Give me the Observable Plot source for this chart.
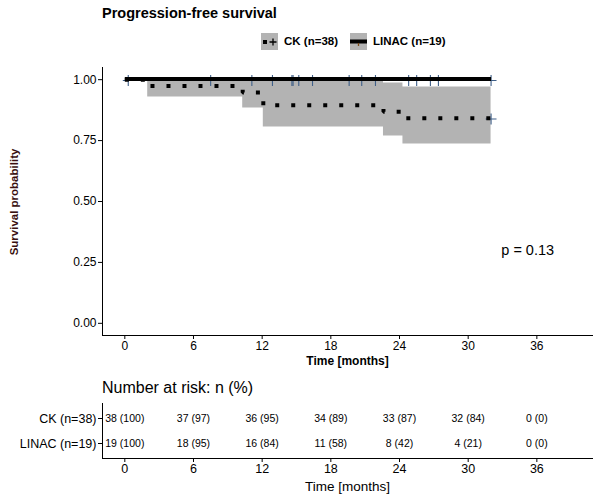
<!DOCTYPE html>
<html><head><meta charset="utf-8">
<script src="https://cdn.jsdelivr.net/npm/d3@7"></script>
<script src="https://cdn.jsdelivr.net/npm/@observablehq/plot@0.6"></script>
<style>
body{margin:0;background:#fff;font-family:"Liberation Sans",Arial,sans-serif;}
#wrap{position:relative;width:600px;height:500px;overflow:hidden;background:#fff;}
.abs{position:absolute;white-space:nowrap;line-height:1;}
.c{transform:translate(-50%,-50%);}
.lg{display:flex;align-items:center;font-weight:bold;font-size:11.5px;color:#000;}
.lg svg{display:block;margin-right:6px;}
.lg span{margin-right:12px;}
</style></head><body><div id="wrap"></div>
<script>
// ---- data ----
const groups = ["CK (n=38)", "LINAC (n=19)"];
const groupN = [38, 19];
const ckTime  = [0, 2.0, 10.3, 12.1, 22.6, 24.3, 32.0];
const ckSurv  = [1, 0.974, 0.947, 0.895, 0.868, 0.842, 0.842];
const ckLower = [1, 0.929, 0.884, 0.806, 0.769, 0.736, 0.736];
const ckUpper = [1, 1, 1, 0.998, 0.986, 0.970, 0.970];
const linacTime = [0, 32.0];
const linacSurv = [1, 1];
const linacCensor = [0.3, 7.5, 11.1, 12.9, 14.6, 14.7, 15.2, 16.4, 19.6, 20.7, 21.9, 24.8, 25.5, 26.7, 27.4, 32.0];
const ckCensor = [32.0];
const ckCensorSurv = [0.842];
const riskTimes = [0, 6, 12, 18, 24, 30, 36];
const ckRisk = [38, 37, 36, 34, 33, 32, 0];
const linacRisk = [19, 18, 16, 11, 8, 4, 0];
const xTicks = [0, 6, 12, 18, 24, 30, 36];
const yTicks = [0, 0.25, 0.5, 0.75, 1];
const pLabel = "p = 0.13";
const pAt = {t: 35.2, s: 0.30};

const xDomain = [-1.95, 40.95];
const yDomain = [-0.05, 1.05];
const FONT = '"Liberation Sans", Arial, sans-serif';

// ---- tables built from arrays ----
const ckRows = ckTime.map((t, i) => ({t, s: ckSurv[i], lo: ckLower[i], hi: ckUpper[i]}));
const linacRows = linacTime.map((t, i) => ({t, s: linacSurv[i]}));
const censorRows = [
  ...linacCensor.map(t => ({t, s: 1})),
  ...ckCensor.map((t, i) => ({t, s: ckCensorSurv[i]}))
];
const riskRows = [ckRisk, linacRisk].flatMap((arr, gi) =>
  arr.map((n, i) => ({t: riskTimes[i], row: gi + 1, label: `${n} (${Math.round(n / groupN[gi] * 100)})`})));

const wrap = document.getElementById("wrap");
function addText(txt, css, cls) {
  const d = document.createElement("div");
  d.className = "abs " + (cls || "");
  d.textContent = txt;
  Object.assign(d.style, css);
  wrap.appendChild(d);
  return d;
}

// title
addText("Progression-free survival", {left: "102px", top: "6px", fontSize: "14.5px", fontWeight: "bold", color: "#000"});

// legend
const lg = document.createElement("div");
lg.className = "abs lg";
Object.assign(lg.style, {left: "261px", top: "33px"});
lg.innerHTML =
  `<svg width="17" height="17"><rect width="17" height="17" fill="#B3B3B3"/><rect x="2" y="7" width="4" height="4" fill="#000"/><path d="M8.5 9H15.5M12 5.5V12.5" stroke="#000" stroke-width="1.3"/></svg><span>${groups[0]}</span>` +
  `<svg width="17" height="17"><rect width="17" height="17" fill="#B3B3B3"/><rect x="0" y="6.5" width="17" height="4" fill="#000"/><path d="M8.5 10V13" stroke="#7a4a1a" stroke-width="1.3"/></svg><span>${groups[1]}</span>`;
wrap.appendChild(lg);

// main plot
const main = Plot.plot({
  width: 600, height: 312,
  marginTop: 7, marginBottom: 37, marginLeft: 102, marginRight: 7,
  style: {fontFamily: FONT, fontSize: "12px", color: "#000", background: "transparent", overflow: "visible"},
  x: {domain: xDomain, ticks: xTicks, tickSize: 4, tickPadding: 2, label: null},
  y: {domain: yDomain, ticks: yTicks, tickFormat: d3.format(".2f"), tickSize: 4, tickPadding: 2, label: null},
  marks: [
    Plot.areaY(ckRows, {x: "t", y1: "lo", y2: "hi", curve: "step-after", fill: "#B3B3B3"}),
    Plot.dot(censorRows, {x: "t", y: "s", symbol: "plus", r: 3.6, stroke: "#3f5f88", strokeWidth: 1.1, dy: 0.8}),
    Plot.line(ckRows, {x: "t", y: "s", curve: "step-after", stroke: "#000", strokeWidth: 4,
      strokeDasharray: "4,12", strokeLinecap: "butt", strokeLinejoin: "miter"}),
    Plot.line(linacRows, {x: "t", y: "s", curve: "step-after", stroke: "#000", strokeWidth: 4, strokeLinecap: "butt", dy: -0.8}),
    Plot.text([pAt], {x: "t", y: "s", text: () => pLabel, fontSize: 14.5, fill: "#000"}),
    Plot.ruleX([xDomain[0]], {stroke: "#000"}),
    Plot.ruleY([yDomain[0]], {stroke: "#000"})
  ]
});
Object.assign(main.style, {position: "absolute", left: "0px", top: "60px"});
wrap.appendChild(main);

addText("Time [months]", {left: "347.5px", top: "361px", fontSize: "12px", fontWeight: "bold", color: "#000"}, "c");
const yt = addText("Survival probability", {left: "15px", top: "202px", fontSize: "11.5px", fontWeight: "bold", color: "#3a1010"});
yt.style.transform = "translate(-50%,-50%) rotate(-90deg)";

// risk table
addText("Number at risk: n (%)", {left: "102px", top: "380px", fontSize: "16px", color: "#000"});
const riskDomain = [2.6, 0.4];
const risk = Plot.plot({
  width: 600, height: 100,
  marginTop: 3, marginBottom: 42, marginLeft: 102, marginRight: 7,
  style: {fontFamily: FONT, fontSize: "12.5px", color: "#000", background: "transparent", overflow: "visible"},
  x: {domain: xDomain, ticks: xTicks, tickSize: 4, tickPadding: 2, label: null},
  y: {domain: riskDomain, ticks: [1, 2], tickFormat: d => groups[d - 1], tickSize: 4, tickPadding: 2, label: null},
  marks: [
    Plot.text(riskRows, {x: "t", y: "row", text: "label", fontSize: 10.5, fill: "#000"}),
    Plot.ruleX([xDomain[0]], {stroke: "#000"}),
    Plot.ruleY([riskDomain[0]], {stroke: "#000"})
  ]
});
Object.assign(risk.style, {position: "absolute", left: "0px", top: "400px"});
wrap.appendChild(risk);

addText("Time [months]", {left: "347.5px", top: "487px", fontSize: "13.5px", color: "#000"}, "c");
</script></body></html>
